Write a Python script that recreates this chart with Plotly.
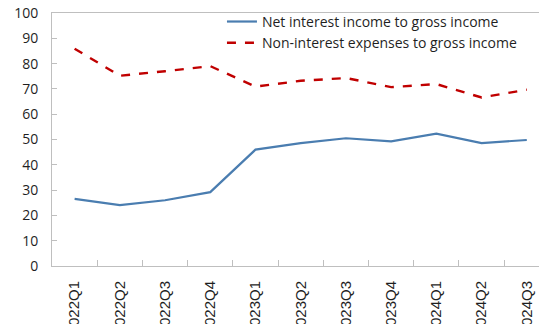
import plotly.graph_objects as go

quarters = ["2022Q1", "2022Q2", "2022Q3", "2022Q4",
            "2023Q1", "2023Q2", "2023Q3", "2023Q4",
            "2024Q1", "2024Q2", "2024Q3"]
net_interest_ratio = [26.5, 24.1, 26.0, 29.2, 46.0, 48.6, 50.5, 49.3, 52.3, 48.6, 49.8]
non_interest_exp_ratio = [85.9, 75.2, 77.0, 79.0, 70.9, 73.2, 74.3, 70.7, 71.9, 66.6, 69.7]
y_ticks = [0, 10, 20, 30, 40, 50, 60, 70, 80, 90, 100]

axis_grey = "#bfbfbf"
text_col = "#1f1f1f"

fig = go.Figure()
fig.add_trace(go.Scatter(
    x=quarters, y=net_interest_ratio, mode="lines",
    name="Net interest income to gross income",
    line=dict(color="#4a7db0", width=2.2),
))
fig.add_trace(go.Scatter(
    x=quarters, y=non_interest_exp_ratio, mode="lines",
    name="Non-interest expenses to gross income",
    line=dict(color="#c00000", width=2.4, dash="dash"),
))

fig.update_layout(
    width=539, height=324,
    margin=dict(l=52, r=0, t=13, b=58),
    paper_bgcolor="white", plot_bgcolor="white",
    font=dict(family="Open Sans", size=14, color=text_col),
    showlegend=True,
    legend=dict(
        x=0.349, y=1.028, xanchor="left", yanchor="top",
        bgcolor="rgba(0,0,0,0)", font=dict(size=14, color=text_col),
        tracegroupgap=0, itemwidth=30,
    ),
    xaxis=dict(
        type="category", range=[-0.5, 10.27], automargin=False,
        showline=True, linecolor=axis_grey, linewidth=1, mirror=True,
        ticks="inside", tickson="boundaries", ticklen=6, tickcolor=axis_grey,
        tickangle=-90, showgrid=False, zeroline=False, ticklabelstandoff=8,
        tickfont=dict(family="Liberation Sans", size=15, color=text_col),
    ),
    yaxis=dict(
        range=[0, 100], tickvals=y_ticks, automargin=False,
        showline=True, linecolor=axis_grey, linewidth=1,
        ticks="inside", ticklen=5, tickcolor=axis_grey,
        showgrid=False, zeroline=False, ticklabelstandoff=10,
        tickfont=dict(family="Open Sans", size=14, color=text_col),
    ),
)

fig.write_html("out.html")
